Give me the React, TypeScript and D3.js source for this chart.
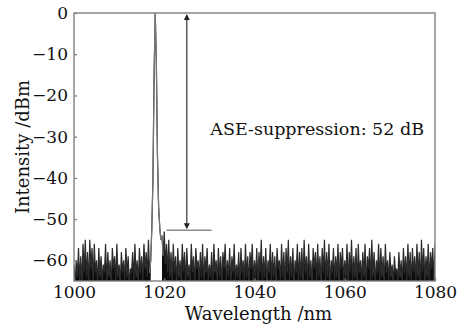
import React, { useRef, useEffect } from "react";
import * as d3 from "d3";

// spectrum sampled every 0.25 nm starting at 1000 nm
const startNm = 1000;
const stepNm = 0.25;

const noiseLeft = [
  -61, -66, -60, -64, -57, -65, -59, -66, -56, -63, -55, -64, -58, -66, -55, -62, -57, -65, -56, -63,
  -60, -66, -57, -64, -59, -65, -61, -63, -56, -66, -58, -64, -60, -66, -57, -62, -59, -65, -56, -64,
  -61, -66, -58, -63, -60, -65, -57, -64, -59, -66, -62, -63, -58, -65, -56, -64, -60, -66, -57, -63,
  -59, -65, -56, -62, -58, -64, -55, -63,
];

const peak = [-60, -52, -40, -15, 0, -12, -35, -47, -52, -55];

const noiseRight = [
  -54, -59, -53, -61, -56, -63, -55, -64, -58, -65, -56, -63, -59, -66, -57, -64, -60, -65, -56, -63,
  -58, -66, -57, -64, -61, -65, -56, -63, -59, -66, -57, -62, -60, -65, -58, -64, -56, -66, -59, -63,
  -57, -65, -61, -64, -58, -66, -56, -63, -60, -65, -57, -64, -59, -66, -58, -62, -56, -65, -60, -64,
  -57, -66, -59, -63, -56, -65, -61, -64, -58, -66, -57, -63, -60, -65, -56, -64, -59, -66, -58, -62,
  -56, -65, -60, -64, -57, -66, -58, -63, -55, -65, -59, -64, -57, -66, -60, -63, -56, -65, -58, -64,
  -59, -66, -57, -62, -60, -65, -56, -64, -58, -66, -57, -63, -55, -65, -59, -64, -57, -66, -60, -63,
  -56, -65, -58, -64, -57, -66, -55, -63, -59, -65, -56, -64, -60, -66, -57, -62, -58, -65, -56, -64,
  -59, -66, -57, -63, -55, -65, -58, -64, -56, -66, -60, -63, -57, -65, -59, -64, -56, -66, -58, -62,
  -57, -65, -60, -64, -56, -66, -58, -63, -55, -65, -59, -64, -57, -66, -56, -63, -60, -65, -58, -64,
  -56, -66, -59, -62, -57, -65, -55, -64, -58, -66, -60, -63, -56, -65, -57, -64, -59, -66, -56, -63,
  -60, -65, -58, -64, -61, -66, -59, -63, -62, -65, -58, -64, -60, -66, -57, -63, -59, -65, -56, -64,
  -58, -66, -57, -63, -59, -65, -56, -64, -58, -66, -55, -63, -57, -65, -59, -64, -56, -66, -58, -62,
  -57, -65, -56,
];

const xTicks = [1000, 1020, 1040, 1060, 1080];
const yTicks = [0, -10, -20, -30, -40, -50, -60];

// annotation: arrow from peak level down to noise level
const arrowNm = 1025;
const arrowLevels = [0, -52.7];
const refLineNm = [1020.5, 1030.5];
const annotation = "ASE-suppression: 52 dB";

const font = "'DejaVu Serif', serif";

const Chart = () => {
  const ref = useRef<SVGSVGElement>(null);

  useEffect(() => {
    const svg = d3.select(ref.current);
    svg.selectAll("*").remove();

    const W = 459;
    const H = 334;
    const margin = { top: 13, right: 24, bottom: 53, left: 74 };
    const width = W - margin.left - margin.right;
    const height = H - margin.top - margin.bottom;

    svg.attr("width", W).attr("height", H);

    const values = [...noiseLeft, ...peak, ...noiseRight];
    const data = values.map((v, i) => ({ x: startNm + i * stepNm, y: v }));
    const peakStart = startNm + noiseLeft.length * stepNm;
    const peakEnd = peakStart + peak.length * stepNm;

    const x = d3.scaleLinear().domain([1000, 1080]).range([0, width]);
    const y = d3.scaleLinear().domain([-65, 0]).range([height, 0]);

    const defs = svg.append("defs");
    defs
      .append("clipPath")
      .attr("id", "plot-clip")
      .append("rect")
      .attr("width", width)
      .attr("height", height);
    defs
      .append("marker")
      .attr("id", "arrow")
      .attr("viewBox", "0 0 10 10")
      .attr("refX", 5)
      .attr("refY", 5)
      .attr("markerWidth", 6)
      .attr("markerHeight", 8)
      .attr("markerUnits", "userSpaceOnUse")
      .attr("orient", "auto-start-reverse")
      .append("path")
      .attr("d", "M0,0 L10,5 L0,10 Z")
      .attr("fill", "#222");

    const g = svg
      .append("g")
      .attr("transform", `translate(${margin.left},${margin.top})`);

    const plot = g.append("g").attr("clip-path", "url(#plot-clip)");

    // filled noise floor (not under the laser line)
    const area = d3
      .area<{ x: number; y: number }>()
      .defined((d) => d.x < peakStart + stepNm || d.x >= peakEnd)
      .x((d) => x(d.x))
      .y0(height + 2)
      .y1((d) => y(d.y));
    plot
      .append("path")
      .datum(data)
      .attr("d", area)
      .attr("fill", "#0c0c0c");

    const line = d3
      .line<{ x: number; y: number }>()
      .x((d) => x(d.x))
      .y((d) => y(d.y));
    plot
      .append("path")
      .datum(data)
      .attr("d", line)
      .attr("fill", "none")
      .attr("stroke", "#2a2a2a")
      .attr("stroke-width", 1.2);
    // laser line drawn lighter, as in the scan
    plot
      .append("path")
      .datum(data.filter((d) => d.x >= peakStart - stepNm && d.x <= peakEnd + stepNm))
      .attr("d", line)
      .attr("fill", "none")
      .attr("stroke", "#777")
      .attr("stroke-width", 1.2);

    // axes
    const yAxis = g
      .append("g")
      .call(d3.axisLeft(y).tickValues(yTicks).tickSizeInner(-3).tickSizeOuter(0).tickPadding(6));
    const xAxis = g
      .append("g")
      .attr("transform", `translate(0,${height})`)
      .call(
        d3
          .axisBottom(x)
          .tickValues(xTicks)
          .tickFormat(d3.format("d"))
          .tickSizeInner(-3)
          .tickSizeOuter(0)
      );
    [yAxis, xAxis].forEach((a) => {
      a.select(".domain").remove();
      a.selectAll("line").attr("stroke", "#777").attr("stroke-width", 1.2);
      a.selectAll("text")
        .attr("fill", "#111")
        .style("font-family", font)
        .style("font-size", "17px");
    });
    xAxis.selectAll("text").attr("y", 17).attr("dy", 0);

    g.append("rect")
      .attr("width", width)
      .attr("height", height)
      .attr("fill", "none")
      .attr("stroke", "#808080")
      .attr("stroke-width", 1.4);

    // annotation
    g.append("line")
      .attr("x1", x(refLineNm[0]))
      .attr("x2", x(refLineNm[1]))
      .attr("y1", y(arrowLevels[1]))
      .attr("y2", y(arrowLevels[1]))
      .attr("stroke", "#8a8a8a")
      .attr("stroke-width", 1.6);
    g.append("line")
      .attr("x1", x(arrowNm))
      .attr("x2", x(arrowNm))
      .attr("y1", y(arrowLevels[0]) + 4)
      .attr("y2", y(arrowLevels[1]) - 4)
      .attr("stroke", "#333")
      .attr("stroke-width", 1.2)
      .attr("marker-start", "url(#arrow)")
      .attr("marker-end", "url(#arrow)");

    g.append("text")
      .attr("x", x(1030.2))
      .attr("y", 122)
      .attr("fill", "#111")
      .style("font-family", font)
      .style("font-size", "17.5px")
      .text(annotation);

    // axis titles
    g.append("text")
      .attr("x", width / 2 + 4)
      .attr("y", height + 39)
      .attr("text-anchor", "middle")
      .attr("fill", "#111")
      .style("font-family", font)
      .style("font-size", "18px")
      .text("Wavelength /nm");
    g.append("text")
      .attr("transform", "rotate(-90)")
      .attr("x", -134)
      .attr("y", -margin.left + 29)
      .attr("text-anchor", "middle")
      .attr("fill", "#111")
      .style("font-family", font)
      .style("font-size", "18px")
      .text("Intensity /dBm");

    return () => {
      svg.selectAll("*").remove();
    };
  }, []);

  return (
    <svg
      ref={ref}
      style={{ display: "block", position: "absolute", left: 0, top: 0, background: "#fff" }}
    />
  );
};

export default function App() {
  return <Chart />;
}
